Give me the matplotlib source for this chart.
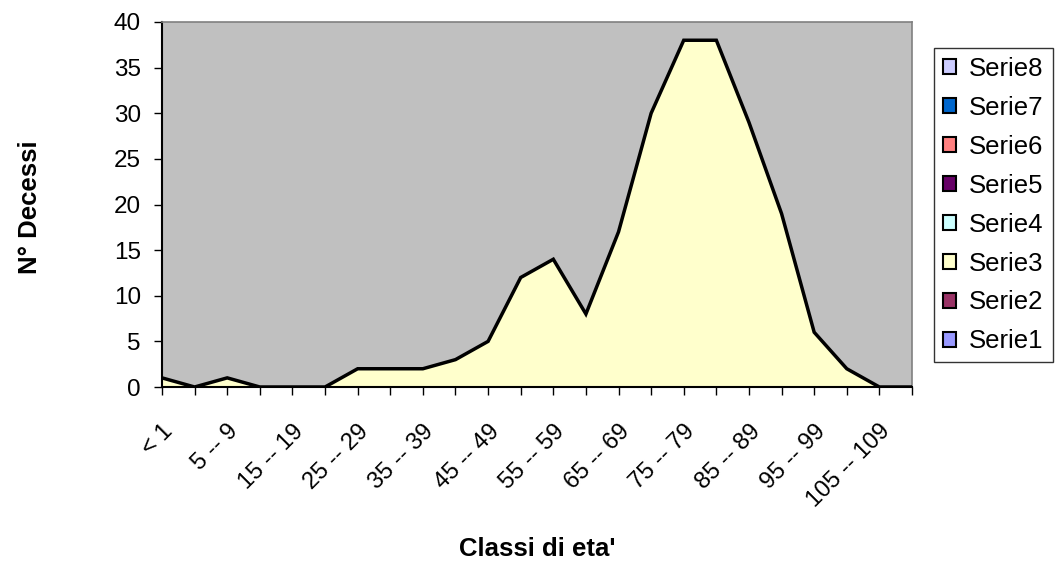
import matplotlib
matplotlib.use("Agg")
import matplotlib.pyplot as plt
import matplotlib.transforms as mtransforms
from matplotlib.patches import Patch

plt.rcParams['font.family'] = ['Liberation Sans', 'DejaVu Sans']

categories = ["< 1", "1 -- 4", "5 -- 9", "10 -- 14", "15 -- 19", "20 -- 24", "25 -- 29",
              "30 -- 34", "35 -- 39", "40 -- 44", "45 -- 49", "50 -- 54", "55 -- 59",
              "60 -- 64", "65 -- 69", "70 -- 74", "75 -- 79", "80 -- 84", "85 -- 89",
              "90 -- 94", "95 -- 99", "100 -- 104", "105 -- 109", "110 +"]
serie3 = [1, 0, 1, 0, 0, 0, 2, 2, 2, 3, 5, 12, 14, 8, 17, 30, 38, 38, 29, 19, 6, 2, 0, 0]

series_names = ["Serie8", "Serie7", "Serie6", "Serie5", "Serie4", "Serie3", "Serie2", "Serie1"]
series_colors = ["#CCCCFF", "#0066CC", "#FF8080", "#660066", "#CCFFFF", "#FFFFCC", "#993366", "#9999FF"]
yticks = [0, 5, 10, 15, 20, 25, 30, 35, 40]

W, H = 1058, 561
fig = plt.figure(figsize=(W / 100, H / 100), dpi=100)
ax = fig.add_axes([162 / W, 1 - 387 / H, (912 - 162) / W, (387 - 22) / H])
ax.set_facecolor("#C0C0C0")

x = list(range(len(categories)))
ax.fill_between(x, serie3, 0, facecolor="#FFFFCC", edgecolor="none", zorder=2)
ax.plot(x, serie3, color="black", lw=2.5, solid_joinstyle="miter", zorder=3)

ax.set_xlim(0, len(categories) - 1)
ax.set_ylim(0, 40)
ax.set_yticks(yticks)
ax.set_yticklabels([str(v) for v in yticks], fontsize=17.5)
ax.set_xticks(x)
ax.set_xticklabels([c if i % 2 == 0 else "" for i, c in enumerate(categories)],
                   rotation=45, ha="right", va="top", rotation_mode="anchor", fontsize=17)
offset = mtransforms.ScaledTranslation(-12 / 100, 0, fig.dpi_scale_trans)
for lbl in ax.get_xticklabels():
    lbl.set_transform(lbl.get_transform() + offset)
ax.tick_params(axis="x", length=5.8, width=1, color="black", pad=18)
ax.tick_params(axis="y", length=5.8, width=1, color="black", pad=9.4)
for s in ["top", "right"]:
    ax.spines[s].set_color("#808080")
    ax.spines[s].set_linewidth(1.2)
for s in ["left", "bottom"]:
    ax.spines[s].set_color("black")
    ax.spines[s].set_linewidth(1.5)

fig.text(537 / W, 1 - 556 / H, "Classi di eta'", fontsize=18.5, fontweight="bold",
         ha="center", va="baseline")
fig.text(30 / W, 1 - 207 / H, "N° Decessi", fontsize=18.5, fontweight="bold",
         ha="center", va="center", rotation=90)

handles = [Patch(facecolor=c, edgecolor="black", linewidth=1.5) for c in series_colors]
leg = fig.legend(handles, series_names, loc="upper left",
                 bbox_to_anchor=(934 / W, 1 - 48 / H), fontsize=18.5,
                 frameon=True, fancybox=False, edgecolor="black",
                 handlelength=0.52, handleheight=0.52, handletextpad=0.5,
                 labelspacing=0.58, borderpad=0.35, borderaxespad=0)
leg.get_frame().set_linewidth(1.0)

fig.savefig("out.png", dpi=100)
